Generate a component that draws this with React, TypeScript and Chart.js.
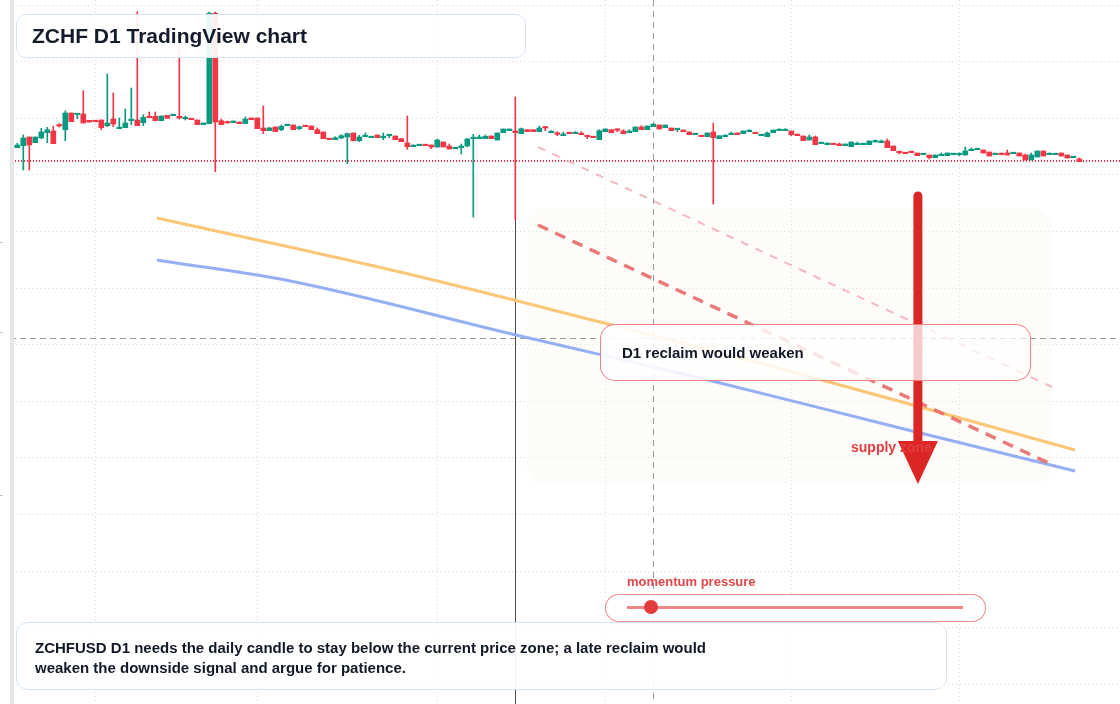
import React, { useEffect, useRef } from "react";
import { Chart, registerables } from "chart.js";

Chart.register(...registerables);

// ---- Daily candles (ZCHFUSD D1) ----
const openP = [
  1.1523, 1.1543, 1.1630, 1.1573, 1.1620, 1.1673, 1.1690, 1.1750, 1.1703, 1.1870,
  1.1853, 1.1860, 1.1797, 1.1793, 1.1800, 1.1743, 1.1810, 1.1713, 1.1723, 1.1793,
  1.1800, 1.1773, 1.1830, 1.1837, 1.1793, 1.1847, 1.1843, 1.1837, 1.1813, 1.1813,
  1.1800, 1.1753, 1.1763, 1.2867, 1.1793, 1.1780, 1.1773, 1.1780, 1.1763, 1.1820,
  1.1820, 1.1720, 1.1693, 1.1730, 1.1703, 1.1743, 1.1750, 1.1713, 1.1740, 1.1740,
  1.1703, 1.1680, 1.1613, 1.1603, 1.1620, 1.1630, 1.1670, 1.1593, 1.1633, 1.1623,
  1.1650, 1.1623, 1.1643, 1.1640, 1.1613, 1.1570, 1.1533, 1.1543, 1.1550, 1.1550,
  1.1530, 1.1580, 1.1540, 1.1513, 1.1523, 1.1540, 1.1613, 1.1613, 1.1613, 1.1640,
  1.1600, 1.1673, 1.1693, 1.1690, 1.1663, 1.1703, 1.1703, 1.1683, 1.1730, 1.1673,
  1.1667, 1.1643, 1.1670, 1.1663, 1.1660, 1.1640, 1.1633, 1.1603, 1.1683, 1.1703,
  1.1707, 1.1690, 1.1673, 1.1683, 1.1730, 1.1703, 1.1733, 1.1750, 1.1723, 1.1720,
  1.1703, 1.1700, 1.1680, 1.1653, 1.1643, 1.1633, 1.1680, 1.1613, 1.1633, 1.1653,
  1.1670, 1.1663, 1.1683, 1.1670, 1.1643, 1.1633, 1.1673, 1.1693, 1.1693, 1.1690,
  1.1653, 1.1640, 1.1600, 1.1630, 1.1563, 1.1553, 1.1560, 1.1560, 1.1543, 1.1533,
  1.1553, 1.1553, 1.1553, 1.1580, 1.1573, 1.1590, 1.1540, 1.1480, 1.1470, 1.1480,
  1.1470, 1.1453, 1.1450, 1.1423, 1.1443, 1.1443, 1.1453, 1.1453, 1.1450, 1.1493,
  1.1503, 1.1500, 1.1480, 1.1453, 1.1460, 1.1470, 1.1463, 1.1470, 1.1450, 1.1400,
  1.1430, 1.1490, 1.1453, 1.1453, 1.1470, 1.1450, 1.1423, 1.1410,
];
const highP = [
  1.1567, 1.1650, 1.1630, 1.1630, 1.1717, 1.1727, 1.1737, 1.1763, 1.1890, 1.1870,
  1.1860, 1.2093, 1.1797, 1.1793, 1.1800, 1.2260, 1.2070, 1.1820, 1.1910, 1.2120,
  1.2883, 1.1853, 1.1880, 1.1880, 1.1840, 1.1847, 1.1850, 1.2550, 1.1840, 1.1813,
  1.1800, 1.1770, 1.2880, 1.2880, 1.1810, 1.1790, 1.1790, 1.1780, 1.1830, 1.1820,
  1.1820, 1.1940, 1.1727, 1.1730, 1.1750, 1.1750, 1.1750, 1.1740, 1.1740, 1.1740,
  1.1720, 1.1680, 1.1613, 1.1633, 1.1653, 1.1670, 1.1670, 1.1647, 1.1670, 1.1633,
  1.1650, 1.1670, 1.1650, 1.1640, 1.1613, 1.1840, 1.1553, 1.1550, 1.1550, 1.1550,
  1.1610, 1.1580, 1.1560, 1.1520, 1.1560, 1.1617, 1.1657, 1.1650, 1.1650, 1.1640,
  1.1670, 1.1710, 1.1710, 1.2030, 1.1720, 1.1703, 1.1703, 1.1740, 1.1730, 1.1693,
  1.1683, 1.1680, 1.1670, 1.1683, 1.1683, 1.1640, 1.1633, 1.1703, 1.1710, 1.1703,
  1.1713, 1.1703, 1.1703, 1.1730, 1.1743, 1.1740, 1.1760, 1.1750, 1.1750, 1.1720,
  1.1710, 1.1700, 1.1680, 1.1660, 1.1643, 1.1670, 1.1770, 1.1643, 1.1653, 1.1680,
  1.1670, 1.1690, 1.1703, 1.1670, 1.1653, 1.1680, 1.1700, 1.1713, 1.1713, 1.1690,
  1.1663, 1.1640, 1.1650, 1.1640, 1.1570, 1.1570, 1.1560, 1.1570, 1.1560, 1.1580,
  1.1580, 1.1560, 1.1590, 1.1600, 1.1600, 1.1610, 1.1540, 1.1480, 1.1470, 1.1480,
  1.1470, 1.1460, 1.1450, 1.1450, 1.1470, 1.1470, 1.1460, 1.1470, 1.1530, 1.1520,
  1.1510, 1.1500, 1.1480, 1.1470, 1.1470, 1.1500, 1.1470, 1.1470, 1.1460, 1.1470,
  1.1490, 1.1490, 1.1470, 1.1460, 1.1470, 1.1450, 1.1430, 1.1420,
];
const lowP = [
  1.1523, 1.1300, 1.1300, 1.1573, 1.1613, 1.1573, 1.1563, 1.1730, 1.1593, 1.1783,
  1.1813, 1.1770, 1.1780, 1.1783, 1.1703, 1.1733, 1.1733, 1.1713, 1.1723, 1.1753,
  1.1743, 1.1743, 1.1823, 1.1793, 1.1793, 1.1817, 1.1843, 1.1810, 1.1800, 1.1803,
  1.1753, 1.1753, 1.1763, 1.1283, 1.1753, 1.1770, 1.1773, 1.1763, 1.1763, 1.1803,
  1.1713, 1.1663, 1.1693, 1.1683, 1.1693, 1.1743, 1.1703, 1.1703, 1.1733, 1.1703,
  1.1663, 1.1613, 1.1603, 1.1603, 1.1613, 1.1363, 1.1593, 1.1583, 1.1633, 1.1623,
  1.1623, 1.1603, 1.1623, 1.1603, 1.1583, 1.1507, 1.1533, 1.1543, 1.1543, 1.1513,
  1.1530, 1.1530, 1.1510, 1.1513, 1.1460, 1.1533, 1.0830, 1.1613, 1.1613, 1.1613,
  1.1600, 1.1673, 1.1693, 1.0800, 1.1663, 1.1683, 1.1683, 1.1683, 1.1693, 1.1673,
  1.1643, 1.1643, 1.1663, 1.1663, 1.1653, 1.1613, 1.1623, 1.1603, 1.1683, 1.1673,
  1.1683, 1.1663, 1.1673, 1.1683, 1.1703, 1.1703, 1.1733, 1.1710, 1.1723, 1.1693,
  1.1683, 1.1683, 1.1653, 1.1653, 1.1633, 1.1633, 1.0960, 1.1613, 1.1633, 1.1653,
  1.1653, 1.1663, 1.1683, 1.1663, 1.1643, 1.1633, 1.1673, 1.1693, 1.1693, 1.1643,
  1.1643, 1.1593, 1.1600, 1.1553, 1.1563, 1.1553, 1.1553, 1.1543, 1.1543, 1.1533,
  1.1553, 1.1553, 1.1553, 1.1580, 1.1573, 1.1523, 1.1493, 1.1460, 1.1463, 1.1473,
  1.1443, 1.1453, 1.1410, 1.1423, 1.1443, 1.1443, 1.1453, 1.1443, 1.1450, 1.1493,
  1.1503, 1.1470, 1.1440, 1.1453, 1.1453, 1.1450, 1.1463, 1.1440, 1.1400, 1.1400,
  1.1430, 1.1440, 1.1453, 1.1453, 1.1440, 1.1420, 1.1423, 1.1383,
];
const closeP = [
  1.1550, 1.1620, 1.1550, 1.1630, 1.1680, 1.1703, 1.1563, 1.1740, 1.1870, 1.1783,
  1.1860, 1.1770, 1.1780, 1.1783, 1.1723, 1.1770, 1.1760, 1.1720, 1.1770, 1.1800,
  1.1743, 1.1827, 1.1823, 1.1793, 1.1840, 1.1817, 1.1850, 1.1820, 1.1820, 1.1803,
  1.1753, 1.1770, 1.2867, 1.1780, 1.1753, 1.1770, 1.1790, 1.1763, 1.1810, 1.1803,
  1.1713, 1.1693, 1.1720, 1.1683, 1.1737, 1.1750, 1.1703, 1.1733, 1.1733, 1.1703,
  1.1663, 1.1613, 1.1603, 1.1623, 1.1643, 1.1663, 1.1593, 1.1630, 1.1643, 1.1633,
  1.1623, 1.1630, 1.1650, 1.1603, 1.1583, 1.1533, 1.1543, 1.1550, 1.1543, 1.1530,
  1.1600, 1.1530, 1.1510, 1.1520, 1.1540, 1.1610, 1.1623, 1.1630, 1.1637, 1.1613,
  1.1670, 1.1710, 1.1710, 1.1673, 1.1713, 1.1683, 1.1683, 1.1720, 1.1720, 1.1683,
  1.1657, 1.1660, 1.1663, 1.1673, 1.1653, 1.1633, 1.1623, 1.1693, 1.1710, 1.1673,
  1.1697, 1.1663, 1.1690, 1.1730, 1.1703, 1.1740, 1.1760, 1.1710, 1.1750, 1.1693,
  1.1710, 1.1683, 1.1653, 1.1660, 1.1633, 1.1670, 1.1623, 1.1643, 1.1643, 1.1660,
  1.1653, 1.1690, 1.1693, 1.1663, 1.1653, 1.1670, 1.1700, 1.1703, 1.1703, 1.1653,
  1.1643, 1.1593, 1.1630, 1.1553, 1.1570, 1.1570, 1.1553, 1.1543, 1.1560, 1.1580,
  1.1560, 1.1560, 1.1590, 1.1590, 1.1590, 1.1523, 1.1493, 1.1473, 1.1463, 1.1473,
  1.1443, 1.1460, 1.1423, 1.1450, 1.1450, 1.1470, 1.1460, 1.1460, 1.1490, 1.1500,
  1.1510, 1.1470, 1.1440, 1.1460, 1.1453, 1.1450, 1.1470, 1.1440, 1.1400, 1.1450,
  1.1490, 1.1440, 1.1460, 1.1460, 1.1440, 1.1420, 1.1430, 1.1383,
];

// ---- axes / grid ----
const X_MIN = -2.883;
const X_MAX = 183.784;
const Y_MIN = 0.596;
const Y_MAX = 1.3;
const xGridDays = [13, 40, 70, 98, 129, 157];
const yGridLevels = [
  1.295, 1.2384, 1.1818, 1.1252, 1.0686, 1.012, 0.9554, 0.8988, 0.8422, 0.7856,
  0.729, 0.6724, 0.6158,
];

// ---- levels / drawings ----
const currentPrice = 1.139;
const crosshairPrice = 0.962;
const crosshairDay = 106;
const markerDay = 83;
const orangeLine = [
  { x: 23.28, y: 1.082 },
  { x: 63.78, y: 1.028 },
  { x: 97.12, y: 0.978 },
  { x: 130.45, y: 0.926 },
  { x: 176.28, y: 0.85 },
];
const blueLine = [
  { x: 23.28, y: 1.04 },
  { x: 47.12, y: 1.017 },
  { x: 83.12, y: 0.965 },
  { x: 113.78, y: 0.922 },
  { x: 147.12, y: 0.872 },
  { x: 176.28, y: 0.829 },
];
const redDashLine = [
  { x: 86.78, y: 1.075 },
  { x: 172.95, y: 0.834 },
];
const paleDashLine = [
  { x: 86.78, y: 1.153 },
  { x: 172.45, y: 0.913 },
];
const zoneDays = [84.95, 172.45];
const zonePrices = [1.092, 0.816];
const arrowDay = 150.1;
const arrowPrices = [1.104, 0.859, 0.816]; // start, head base, tip
const supplyLabel = { x: 138.95, y: 0.852, text: "supply zone" };
const momentumLevel = 0.07;

const GREEN = "#089981";
const RED = "#f23645";
const FONT = '"Liberation Sans", Arial, Helvetica, sans-serif';

const idx = openP.map((_, i) => i);

const overlayPlugin = {
  id: "overlays",
  beforeDatasetsDraw(chart: any) {
    const { ctx, chartArea, scales } = chart;
    const xs = scales.x;
    const ys = scales.y;
    ctx.save();
    // zone
    const zx0 = xs.getPixelForValue(zoneDays[0]);
    const zx1 = xs.getPixelForValue(zoneDays[1]);
    const zy0 = ys.getPixelForValue(zonePrices[0]);
    const zy1 = ys.getPixelForValue(zonePrices[1]);
    ctx.fillStyle = "rgba(250, 238, 226, 0.2)";
    ctx.beginPath();
    ctx.roundRect(zx0, zy0, zx1 - zx0, zy1 - zy0, 20);
    ctx.fill();

    // crosshair
    ctx.strokeStyle = "#9a9a9a";
    ctx.lineWidth = 1;
    ctx.setLineDash([6, 4]);
    const ch = Math.round(ys.getPixelForValue(crosshairPrice)) + 0.5;
    ctx.beginPath();
    ctx.moveTo(chartArea.left, ch);
    ctx.lineTo(chartArea.right, ch);
    ctx.stroke();
    const cv = Math.round(xs.getPixelForValue(crosshairDay)) + 0.5;
    ctx.setLineDash([6, 5]);
    ctx.beginPath();
    ctx.moveTo(cv, chartArea.top);
    ctx.lineTo(cv, chartArea.bottom);
    ctx.stroke();

    // marker line
    ctx.setLineDash([]);
    ctx.strokeStyle = "#4d4d4d";
    const mv = Math.round(xs.getPixelForValue(markerDay)) + 0.5;
    ctx.beginPath();
    ctx.moveTo(mv, ys.getPixelForValue(highP[markerDay]));
    ctx.lineTo(mv, chartArea.bottom);
    ctx.stroke();

    // current price
    ctx.strokeStyle = RED;
    ctx.lineWidth = 2;
    ctx.setLineDash([1, 2]);
    const cp = Math.round(ys.getPixelForValue(currentPrice));
    ctx.beginPath();
    ctx.moveTo(chartArea.left, cp);
    ctx.lineTo(chartArea.right, cp);
    ctx.stroke();
    ctx.restore();
  },
  afterDatasetsDraw(chart: any) {
    const { ctx, scales } = chart;
    const xs = scales.x;
    const ys = scales.y;
    ctx.save();
    const ax = xs.getPixelForValue(arrowDay);
    const a0 = ys.getPixelForValue(arrowPrices[0]);
    const ab = ys.getPixelForValue(arrowPrices[1]);
    const at = ys.getPixelForValue(arrowPrices[2]);
    ctx.strokeStyle = "#dc2626";
    ctx.fillStyle = "#dc2626";
    ctx.lineWidth = 9;
    ctx.lineCap = "round";
    ctx.beginPath();
    ctx.moveTo(ax, a0);
    ctx.lineTo(ax, ab + 2);
    ctx.stroke();
    ctx.beginPath();
    ctx.moveTo(ax - 20, ab);
    ctx.lineTo(ax + 20, ab);
    ctx.lineTo(ax, at);
    ctx.closePath();
    ctx.fill();

    ctx.font = `bold 14px ${FONT}`;
    ctx.fillStyle = "#e43d3d";
    ctx.textBaseline = "middle";
    ctx.fillText(supplyLabel.text, xs.getPixelForValue(supplyLabel.x), ys.getPixelForValue(supplyLabel.y));
    ctx.restore();
  },
};

function lineDs(data: any[], color: string, width: number, dash: number[], tension: number) {
  return {
    type: "line" as const,
    data,
    borderColor: color,
    borderWidth: width,
    borderDash: dash,
    pointRadius: 0,
    tension,
    fill: false,
    order: 0,
  };
}

export default function App() {
  const ref = useRef<HTMLCanvasElement>(null);

  useEffect(() => {
    if (!ref.current) return;
    const colors = idx.map((i) => (closeP[i] >= openP[i] ? GREEN : RED));
    const chart = new Chart(ref.current, {
      type: "bar",
      data: {
        datasets: [
          {
            type: "bar",
            data: idx.map((i) => ({ x: i, y: [lowP[i], highP[i]] })) as any,
            backgroundColor: colors,
            barThickness: 1,
            minBarLength: 1,
            grouped: false,
            order: 3,
          },
          {
            type: "bar",
            data: idx.map((i) => ({ x: i, y: [openP[i], closeP[i]] })) as any,
            backgroundColor: colors,
            barThickness: 5,
            minBarLength: 1.5,
            grouped: false,
            order: 2,
          },
          lineDs(paleDashLine, "rgba(240, 160, 170, 0.75)", 2, [8, 8], 0),
          lineDs(redDashLine, "rgba(228, 100, 100, 0.85)", 3.5, [11, 8], 0),
          lineDs(orangeLine, "#fbc676", 3, [], 0.35),
          lineDs(blueLine, "#95aff5", 3, [], 0.35),
        ] as any,
      },
      options: {
        responsive: false,
        animation: false,
        devicePixelRatio: 1,
        layout: { padding: 0 },
        plugins: { legend: { display: false }, tooltip: { enabled: false } },
        events: [],
        scales: {
          x: {
            type: "linear",
            min: X_MIN,
            max: X_MAX,
            offset: false,
            ticks: { display: false },
            grid: { color: "#d9d9d9", drawTicks: false, offset: false, lineWidth: 1 },
            border: { display: false, dash: [1, 3] },
            afterBuildTicks: (s: any) => {
              s.ticks = xGridDays.map((v) => ({ value: v }));
            },
          },
          y: {
            type: "linear",
            min: Y_MIN,
            max: Y_MAX,
            beginAtZero: false,
            ticks: { display: false },
            grid: { color: "#d9d9d9", drawTicks: false, lineWidth: 1 },
            border: { display: false, dash: [1, 3] },
            afterBuildTicks: (s: any) => {
              s.ticks = yGridLevels.map((v) => ({ value: v }));
            },
          },
        },
      } as any,
      plugins: [overlayPlugin],
    });
    return () => chart.destroy();
  }, []);

  const dark = "#111827";
  const boxBorder = "1.5px solid #d6e3f7";

  return (
    <div
      style={{
        position: "fixed",
        left: 0,
        top: 0,
        width: 1120,
        height: 704,
        background: "#fff",
        overflow: "hidden",
        fontFamily: FONT,
      }}
    >
      <canvas
        ref={ref}
        width={1120}
        height={704}
        style={{ position: "absolute", left: 0, top: 0, width: 1120, height: 704 }}
      />
      {/* left edge */}
      <div style={{ position: "absolute", left: 0, top: 0, width: 10, height: 704, background: "#fff" }} />
      <div style={{ position: "absolute", left: 10, top: 0, width: 4, height: 704, background: "#e6e6e6" }} />
      {[242, 332, 495].map((t) => (
        <div key={t} style={{ position: "absolute", left: 0, top: t, width: 3, height: 1, background: "#c4c4c4" }} />
      ))}

      {/* title */}
      <div
        style={{
          position: "absolute",
          left: 16,
          top: 14,
          width: 510,
          height: 44,
          boxSizing: "border-box",
          border: boxBorder,
          borderRadius: 10,
          background: "rgba(255,255,255,0.92)",
          paddingLeft: 15,
          display: "flex",
          alignItems: "center",
          fontWeight: 700,
          fontSize: 21,
          color: "#131a2b",
        }}
      >
        ZCHF D1 TradingView chart
      </div>

      {/* reclaim box */}
      <div
        style={{
          position: "absolute",
          left: 600,
          top: 324,
          width: 431,
          height: 57,
          boxSizing: "border-box",
          border: "1.2px solid rgba(236, 110, 110, 0.85)",
          borderRadius: 15,
          background: "linear-gradient(90deg, rgba(255,255,255,0.9), rgba(255,255,255,0.7))",
          paddingLeft: 21,
          display: "flex",
          alignItems: "center",
          fontWeight: 700,
          fontSize: 15,
          color: dark,
        }}
      >
        D1 reclaim would weaken
      </div>

      {/* momentum pressure */}
      <div
        style={{
          position: "absolute",
          left: 627,
          top: 574,
          fontWeight: 700,
          fontSize: 13,
          color: "#e24646",
          lineHeight: "16px",
        }}
      >
        momentum pressure
      </div>
      <div
        style={{
          position: "absolute",
          left: 605,
          top: 594,
          width: 381,
          height: 28,
          boxSizing: "border-box",
          border: "1.2px solid rgba(236, 110, 110, 0.8)",
          borderRadius: 14,
          background: "rgba(255,255,255,0.9)",
        }}
      />
      <div style={{ position: "absolute", left: 627, top: 606, width: 336, height: 3, background: "#ee8686" }} />
      <div
        style={{
          position: "absolute",
          left: 627 + momentumLevel * 336 - 7,
          top: 600,
          width: 14,
          height: 14,
          borderRadius: 7,
          background: "#e23b3b",
        }}
      />

      {/* bottom note */}
      <div
        style={{
          position: "absolute",
          left: 16,
          top: 622,
          width: 931,
          height: 68,
          boxSizing: "border-box",
          border: boxBorder,
          borderRadius: 12,
          background: "rgba(255,255,255,0.92)",
          padding: "15px 0 0 18px",
          fontWeight: 700,
          fontSize: 15,
          lineHeight: "20px",
          color: dark,
        }}
      >
        ZCHFUSD D1 needs the daily candle to stay below the current price zone; a late reclaim would
        <br />
        weaken the downside signal and argue for patience.
      </div>
    </div>
  );
}
